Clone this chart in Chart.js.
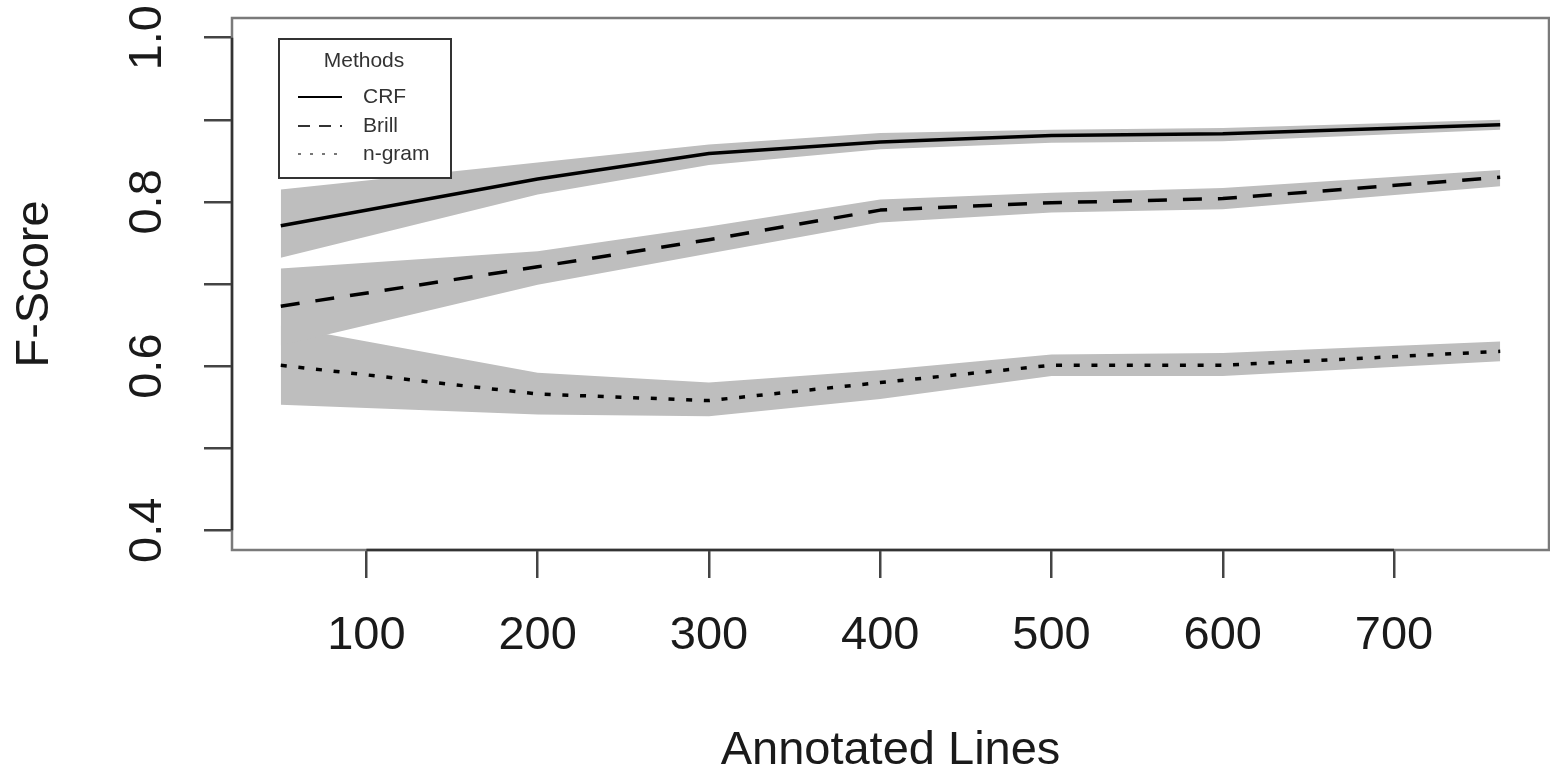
<!DOCTYPE html>
<html><head><meta charset="utf-8">
<script src="https://cdn.jsdelivr.net/npm/chart.js@4/dist/chart.umd.min.js"></script>
<style>html,body{margin:0;padding:0;background:#fff;}canvas{display:block;}</style>
</head><body>
<canvas id="c" width="1550" height="771"></canvas>
<script>
// ---- data ----
const annotatedLines = [50, 200, 300, 400, 500, 600, 762];

const crfScore = [0.771, 0.828, 0.859, 0.873, 0.881, 0.883, 0.894];
const crfUpper = [0.815, 0.848, 0.870, 0.884, 0.888, 0.890, 0.900];
const crfLower = [0.732, 0.809, 0.845, 0.864, 0.872, 0.874, 0.888];

const brillScore = [0.673, 0.721, 0.754, 0.790, 0.799, 0.804, 0.830];
const brillUpper = [0.719, 0.740, 0.770, 0.803, 0.811, 0.817, 0.839];
const brillLower = [0.625, 0.699, 0.737, 0.775, 0.787, 0.791, 0.819];

const ngramScore = [0.601, 0.566, 0.558, 0.580, 0.601, 0.601, 0.618];
const ngramUpper = [0.649, 0.592, 0.580, 0.595, 0.614, 0.616, 0.630];
const ngramLower = [0.553, 0.541, 0.539, 0.560, 0.588, 0.588, 0.606];

const xTickValues = [100, 200, 300, 400, 500, 600, 700];
const xTickLabels = ['100', '200', '300', '400', '500', '600', '700'];
const yTickValues = [0.4, 0.5, 0.6, 0.7, 0.8, 0.9, 1.0];
const yTickLabels = ['0.4', '', '0.6', '', '0.8', '', '1.0'];

const methodNames = ['CRF', 'Brill', 'n-gram'];
const legendTitle = 'Methods';
const xTitle = 'Annotated Lines';
const yTitle = 'F-Score';

// ---- helpers ----
const FONT = "'Liberation Sans', Arial, Helvetica, sans-serif";
Chart.defaults.font.family = FONT;
const pts = (ys) => annotatedLines.map((x, i) => ({x: x, y: ys[i]}));
const BAND = '#bebebe';
const lineStyles = [
  {dash: [], legendDash: [], legendColor: '#000', legendWidth: 2},
  {dash: [19, 16], legendDash: [12, 9], legendColor: '#333', legendWidth: 2},
  {dash: [6, 11.7], legendDash: [3, 9], legendColor: '#777', legendWidth: 2}
];

function lineDs(label, ys, style) {
  return {label: label, data: pts(ys), borderColor: '#000', borderWidth: 3.5,
    borderDash: style.dash, pointRadius: 0, fill: false, tension: 0, order: 0,
    borderCapStyle: 'butt', borderJoinStyle: 'round'};
}
function upperDs(ys) {
  return {label: '_band', data: pts(ys), borderWidth: 0, borderColor: 'rgba(0,0,0,0)',
    backgroundColor: BAND, pointRadius: 0, fill: '+1', tension: 0, order: 5};
}
function lowerDs(ys) {
  return {label: '_band', data: pts(ys), borderWidth: 0, borderColor: 'rgba(0,0,0,0)',
    backgroundColor: BAND, pointRadius: 0, fill: false, tension: 0, order: 5};
}

const frameTop = 18;

const boxPlugin = {
  id: 'rbox',
  afterDatasetsDraw(chart) {
    const {ctx, chartArea: a, scales} = chart;
    ctx.save();
    ctx.strokeStyle = '#7a7a7a';
    ctx.lineWidth = 2.5;
    ctx.strokeRect(a.left, a.top, a.right - a.left, a.bottom - a.top);
    ctx.strokeStyle = '#333';
    ctx.lineWidth = 2.5;
    const y0 = scales.y.getPixelForValue(yTickValues[0]);
    const y1 = scales.y.getPixelForValue(yTickValues[yTickValues.length - 1]);
    ctx.beginPath(); ctx.moveTo(a.left, y0); ctx.lineTo(a.left, y1); ctx.stroke();
    const x0 = scales.x.getPixelForValue(xTickValues[0]);
    const x1 = scales.x.getPixelForValue(xTickValues[xTickValues.length - 1]);
    ctx.beginPath(); ctx.moveTo(x0, a.bottom); ctx.lineTo(x1, a.bottom); ctx.stroke();
    ctx.restore();
  }
};

const legendPlugin = {
  id: 'rlegend',
  afterDraw(chart) {
    const ctx = chart.ctx;
    const L = 279, T = 39, R = 451, B = 178;
    ctx.save();
    ctx.fillStyle = '#fff';
    ctx.fillRect(L, T, R - L, B - T);
    ctx.strokeStyle = '#333';
    ctx.lineWidth = 2;
    ctx.strokeRect(L, T, R - L, B - T);
    ctx.fillStyle = '#333';
    ctx.font = '21px ' + FONT;
    ctx.textAlign = 'center';
    ctx.textBaseline = 'middle';
    ctx.fillText(legendTitle, 364, 61);
    const rowY = [97, 126, 154];
    methodNames.forEach((name, i) => {
      const st = lineStyles[i];
      ctx.strokeStyle = st.legendColor;
      ctx.lineWidth = st.legendWidth;
      ctx.setLineDash(st.legendDash);
      ctx.beginPath(); ctx.moveTo(298, rowY[i]); ctx.lineTo(342, rowY[i]); ctx.stroke();
      ctx.setLineDash([]);
      ctx.fillStyle = '#333';
      ctx.font = '21px ' + FONT;
      ctx.textAlign = 'left';
      ctx.fillText(name, 363, rowY[i]);
    });
    ctx.restore();
  }
};

new Chart(document.getElementById('c'), {
  type: 'line',
  data: {
    datasets: [
      lineDs(methodNames[0], crfScore, lineStyles[0]),
      lineDs(methodNames[1], brillScore, lineStyles[1]),
      lineDs(methodNames[2], ngramScore, lineStyles[2]),
      upperDs(crfUpper), lowerDs(crfLower),
      upperDs(brillUpper), lowerDs(brillLower),
      upperDs(ngramUpper), lowerDs(ngramLower)
    ]
  },
  options: {
    responsive: false,
    animation: false,
    devicePixelRatio: 1,
    layout: {padding: {top: frameTop, right: 1, bottom: 0, left: 0}},
    plugins: {
      legend: {display: false},
      tooltip: {enabled: false},
      filler: {drawTime: 'beforeDatasetsDraw', propagate: false}
    },
    scales: {
      x: {
        type: 'linear', min: 21.52, max: 790.48,
        afterFit(s) { s.height = 221; s.paddingLeft = 0; s.paddingRight = 0; },
        afterBuildTicks(s) { s.ticks = xTickValues.map(v => ({value: v})); },
        border: {display: false},
        grid: {drawOnChartArea: false, drawTicks: true, tickLength: 28, color: '#444', lineWidth: 2.5},
        ticks: {
          autoSkip: false, maxRotation: 0, minRotation: 0, padding: 35, color: '#1a1a1a',
          font: {size: 47, lineHeight: 1},
          callback(v, i) { return xTickLabels[i]; }
        },
        title: {display: true, text: xTitle, color: '#1a1a1a',
          font: {size: 47, lineHeight: 0.87}, padding: {top: 0, bottom: 0}}
      },
      y: {
        type: 'linear', min: 0.376, max: 1.024,
        afterFit(s) { s.width = 232; s.paddingTop = 0; s.paddingBottom = 0; },
        afterBuildTicks(s) { s.ticks = yTickValues.map(v => ({value: v})); },
        border: {display: false},
        grid: {drawOnChartArea: false, drawTicks: true, tickLength: 28, color: '#444', lineWidth: 2.5},
        ticks: {
          autoSkip: false, minRotation: 90, maxRotation: 90, crossAlign: 'center', padding: 23,
          color: '#1a1a1a', font: {size: 47, lineHeight: 1},
          callback(v, i) { return yTickLabels[i]; }
        },
        title: {display: true, text: yTitle, color: '#1a1a1a',
          font: {size: 47, lineHeight: 1}, padding: {top: 11.5, bottom: 0}}
      }
    }
  },
  plugins: [boxPlugin, legendPlugin]
});
</script>
</body></html>
